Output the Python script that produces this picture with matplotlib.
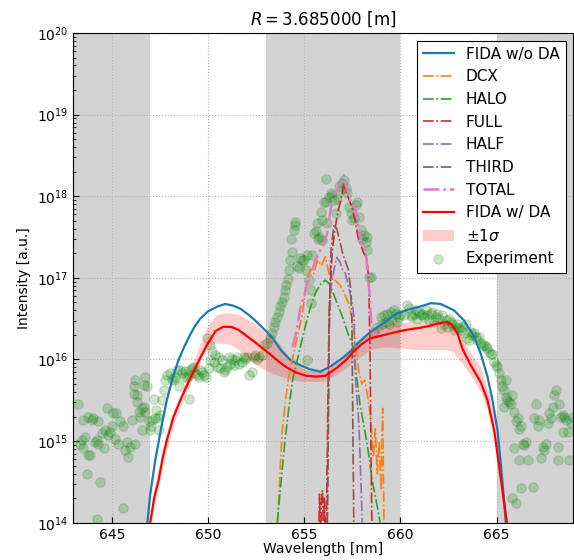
import numpy as np
import matplotlib
matplotlib.use("Agg")
from matplotlib import pyplot as plt

# wavelengths in nm, intensities stored as log10 values
fida_wl = [646.85, 647.0, 647.25, 647.55, 647.86, 648.2, 648.45, 648.7, 649.0, 649.3, 649.6, 650.0,
           650.5, 650.9, 651.3, 651.7, 652.1, 652.4, 652.7, 653.1, 653.4, 653.8, 654.3, 654.8, 655.3,
           655.85, 656.4, 657.0, 657.4, 657.8, 658.45, 659.1, 659.8, 660.4, 661.06, 661.58, 662.1,
           662.8, 663.3, 663.84, 664.18, 664.53, 664.79, 665.05, 665.22, 665.4, 665.5]
fida_log = [14.0, 14.35, 14.75, 15.14, 15.5, 15.8, 15.98, 16.12, 16.27, 16.4, 16.5, 16.59,
            16.65, 16.68, 16.66, 16.62, 16.55, 16.49, 16.42, 16.33, 16.25, 16.11, 15.99, 15.93, 15.88,
            15.85, 15.92, 16.02, 16.1, 16.2, 16.34, 16.44, 16.56, 16.61, 16.65, 16.69, 16.68,
            16.6, 16.48, 16.28, 16.07, 15.79, 15.5, 15.13, 14.73, 14.24, 13.95]

da_wl = [647.0, 647.2, 647.43, 647.65, 647.86, 648.21, 648.56, 649.08, 649.6, 650.0, 650.4, 650.8,
         651.2, 651.6, 652.0, 652.4, 652.73, 653.25, 653.7, 654.11, 654.6, 655.1, 655.6, 656.1,
         656.72, 657.2, 657.58, 658.0, 658.45, 659.0, 659.5, 660.02, 660.5, 661.06, 661.5, 661.93,
         662.45, 662.7, 662.97, 663.23, 663.66, 664.18, 664.53, 664.88, 665.14, 665.4, 665.55]
da_log = [14.0, 14.3, 14.52, 14.8, 15.01, 15.3, 15.5, 15.77, 16.02, 16.2, 16.35, 16.4,
          16.4, 16.36, 16.29, 16.22, 16.16, 16.06, 15.97, 15.9, 15.84, 15.8, 15.79, 15.8,
          15.9, 16.0, 16.1, 16.19, 16.26, 16.29, 16.32, 16.35, 16.37, 16.39, 16.41, 16.44,
          16.46, 16.42, 16.32, 16.13, 15.93, 15.72, 15.5, 15.13, 14.68, 14.24, 13.98]
da_lo = [13.95, 14.2, 14.42, 14.68, 14.9, 15.2, 15.42, 15.7, 15.98, 16.15, 16.2, 16.2,
         16.18, 16.12, 16.02, 15.95, 15.9, 15.84, 15.8, 15.77, 15.74, 15.73, 15.73, 15.74,
         15.82, 15.9, 15.98, 16.05, 16.12, 16.15, 16.15, 16.14, 16.13, 16.12, 16.12, 16.12,
         16.12, 16.1, 16.02, 15.95, 15.8, 15.6, 15.38, 15.02, 14.6, 14.18, 13.95]
da_hi = [14.02, 14.32, 14.55, 14.83, 15.05, 15.34, 15.56, 15.86, 16.2, 16.42, 16.54, 16.57,
         16.57, 16.55, 16.5, 16.44, 16.38, 16.28, 16.2, 16.06, 15.94, 15.87, 15.85, 15.86,
         15.97, 16.08, 16.18, 16.28, 16.36, 16.42, 16.44, 16.45, 16.46, 16.46, 16.47, 16.48,
         16.48, 16.44, 16.36, 16.26, 16.08, 15.9, 15.65, 15.3, 14.8, 14.3, 14.02]

dcx_wl = [653.62, 653.7, 653.85, 654.03, 654.2, 654.46, 654.72, 654.9, 655.1, 655.3, 655.5, 655.7,
          655.9, 656.1, 656.3, 656.5, 656.7, 656.9, 657.1, 657.3, 657.5, 657.7, 657.85, 658.0,
          658.15, 658.3, 658.45, 658.6, 658.7, 658.8, 658.9, 659.0, 659.08, 659.15]
dcx_log = [14.0, 14.4, 15.1, 15.5, 15.79, 16.08, 16.36, 16.55, 16.9, 17.1, 17.05, 17.22,
           17.15, 17.26, 17.05, 17.0, 16.95, 16.9, 16.8, 16.69, 16.5, 16.1, 15.85, 15.7,
           15.75, 15.55, 15.3, 14.8, 15.15, 14.6, 15.0, 14.4, 15.4, 14.0]

halo_wl = [653.6, 653.8, 654.0, 654.2, 654.4, 654.6, 654.8, 655.0, 655.3, 655.6, 655.9, 656.1,
           656.3, 656.5, 656.7, 656.9, 657.1, 657.3, 657.5, 657.7, 657.9, 658.1, 658.3, 658.55,
           658.8, 658.95]
halo_log = [14.0, 14.5, 15.0, 15.4, 15.75, 15.95, 16.15, 16.35, 16.62, 16.82, 16.94, 16.97,
            16.93, 16.82, 16.7, 16.58, 16.45, 16.3, 16.2, 15.85, 15.45, 15.2, 14.92, 14.5,
            14.2, 14.0]

full_wl = [655.75, 655.8, 655.85, 655.9, 655.95, 656.0, 656.05, 656.1, 656.15, 656.2, 656.25,
           656.3, 656.45, 656.6, 656.75, 656.9, 657.05, 657.2, 657.35, 657.5, 657.65, 657.8,
           657.95, 658.1, 658.25, 658.35, 658.42, 658.47, 658.52]
full_log = [13.8, 14.35, 13.8, 14.25, 14.4, 13.9, 14.3, 13.9, 14.0, 14.8, 15.8,
            16.6, 17.3, 17.6, 17.8, 17.95, 18.12, 18.05, 17.95, 17.85, 17.7, 17.5,
            17.4, 17.3, 17.25, 17.0, 16.2, 15.0, 14.0]

half_wl = [656.2, 656.25, 656.3, 656.4, 656.55, 656.7, 656.85, 657.0, 657.15, 657.3, 657.5,
           657.6, 657.66, 657.85, 657.95, 658.02]
half_log = [14.0, 15.0, 16.3, 16.9, 17.1, 17.25, 17.2, 17.1, 17.05, 16.9, 16.7,
            16.5, 15.8, 15.2, 14.5, 14.0]

third_wl = [656.2, 656.25, 656.3, 656.4, 656.55, 656.7, 656.85, 657.0, 657.15, 657.3, 657.4,
            657.48, 657.53, 657.58]
third_log = [14.0, 15.0, 16.5, 17.35, 17.65, 17.6, 17.45, 17.3, 17.2, 17.1, 16.9,
             16.5, 15.2, 14.0]

total_wl = [654.4, 654.6, 654.8, 655.0, 655.16, 655.4, 655.59, 655.8, 656.03, 656.2, 656.37,
            656.5, 656.63, 656.8, 656.95, 657.07, 657.2, 657.4, 657.55, 657.66, 657.8, 657.95,
            658.1, 658.2, 658.3, 658.4, 658.5, 658.6, 658.75]
total_log = [16.15, 16.35, 16.62, 16.78, 16.93, 17.08, 17.22, 17.32, 17.42, 17.55, 17.83,
             17.95, 18.04, 18.12, 18.18, 18.26, 18.12, 17.95, 17.9, 17.87, 17.65, 17.42,
             17.38, 17.34, 17.05, 16.81, 16.4, 16.3, 16.35]

exp_wl = [643.26, 643.35, 643.43, 643.52, 643.61, 643.69, 643.78, 643.87, 643.52, 643.78, 643.95,
          644.04, 644.13, 644.22, 644.30, 644.30, 644.39, 644.48, 644.60, 644.65, 644.74, 644.82,
          644.91, 645.00, 645.08, 645.17, 645.22, 645.34, 645.43, 645.57, 645.60, 645.69, 645.78,
          645.86, 645.95, 646.04, 646.13, 646.13, 646.21, 646.21, 646.30, 646.33, 646.39, 646.47,
          646.56, 646.56, 646.65, 646.68, 646.73, 646.73, 646.82, 646.91, 646.99, 647.03, 647.08,
          647.17, 647.25, 647.31, 647.38, 647.48, 647.51, 647.60, 647.69, 647.77, 647.86, 648.03,
          648.12, 648.21, 648.30, 648.38, 648.52, 648.56, 648.64, 648.73, 648.82, 648.90, 648.99,
          648.99, 649.08, 649.16, 649.28, 649.34, 649.42, 649.51, 649.60, 649.68, 649.81, 649.91,
          650.03, 644.22, 650.12, 650.29, 650.38, 650.47, 650.55, 650.64, 650.73, 650.81, 650.90,
          650.99, 651.07, 651.16, 651.25, 651.33, 651.42, 651.51, 651.59, 651.77, 651.85, 651.94,
          652.03, 652.11, 652.29, 652.38, 652.46, 652.55, 652.64, 652.81, 652.90, 653.07, 653.24,
          649.95, 650.10, 650.20,
          653.33, 653.42, 653.51, 653.59, 653.68, 653.77, 653.85, 653.94, 654.03, 654.08, 654.15,
          654.20, 654.29, 654.37, 654.32, 654.46, 654.50, 654.55, 654.63, 654.72, 654.81, 654.89,
          654.98, 655.07, 655.15, 655.24, 655.33, 655.36, 655.42, 655.50, 655.59, 655.68, 655.71,
          655.76, 655.85, 655.94, 655.94, 656.02, 656.11, 656.16, 656.20, 656.28, 656.37, 656.46,
          656.54, 656.63, 656.72, 656.80, 656.89, 656.98, 657.06, 657.15, 657.24, 657.33, 657.41,
          657.50, 657.59, 657.67, 657.76, 657.85, 657.93, 658.02, 658.11, 658.19, 658.28, 658.37,
          658.28, 655.15, 658.45, 658.63, 658.80,
          658.97, 659.15, 659.32, 659.49, 659.67, 659.76, 659.93, 660.02, 660.19, 660.36, 660.45,
          660.54, 660.62, 660.71, 660.80, 660.88, 660.97, 661.06, 661.14, 661.23, 661.32, 661.40,
          661.49, 661.58, 661.67, 661.75, 661.84, 661.93, 662.01, 662.10, 662.19, 662.27, 662.36,
          662.45, 662.53, 662.62, 662.71, 662.79, 662.88, 662.97, 663.05, 663.14, 663.23, 663.31,
          663.40, 663.49, 663.57, 663.66, 663.75, 663.84, 663.92, 664.01, 664.10, 664.18, 664.27,
          664.36, 664.44, 664.53, 664.62, 664.70, 664.79, 664.88, 664.96, 665.05, 665.14, 665.22,
          665.31, 665.40, 665.48, 665.48, 665.57, 665.66, 665.40, 665.74, 665.83, 665.92, 666.01,
          666.09, 666.18, 666.27, 665.92, 666.18, 666.35, 666.44, 666.61, 666.53, 666.87, 666.27,
          665.83, 666.01, 666.96, 667.05, 667.13, 667.22, 667.31, 667.39, 667.48, 667.57, 667.65,
          667.74, 667.83, 667.91, 668.00, 668.09, 668.18, 668.26, 668.35, 668.44, 668.52, 668.61,
          668.70, 668.44, 668.78, 668.87, 668.96, 668.18, 659.06, 659.23, 659.41, 659.58, 659.84]
exp_log = [15.46, 14.97, 15.01, 14.91, 15.05, 14.60, 14.83, 14.83, 15.26, 15.29, 15.26,
           15.28, 14.99, 15.01, 15.24, 14.97, 14.50, 15.10, 14.91, 15.14, 15.40, 15.07,
           15.11, 15.18, 15.34, 15.03, 15.34, 14.97, 15.24, 15.18, 14.18, 14.89, 14.99,
           14.81, 14.93, 15.26, 15.58, 15.67, 14.97, 15.75, 15.56, 15.48, 15.36, 15.29,
           15.14, 15.40, 15.42, 15.69, 15.78, 15.36, 15.67, 15.24, 15.14, 15.18, 15.26,
           15.52, 15.28, 15.38, 15.28, 15.14, 15.32, 15.50, 15.63, 15.75, 15.81, 15.83,
           15.76, 15.75, 15.79, 15.87, 15.67, 15.87, 15.83, 15.79, 15.86, 15.79, 15.52,
           15.81, 15.87, 15.89, 15.91, 15.83, 15.81, 15.79, 15.87, 15.85, 15.81, 15.79,
           15.89, 14.05, 15.99, 15.97, 16.05, 15.91, 16.03, 15.89, 15.99, 15.85, 15.87,
           15.91, 16.03, 15.95, 16.01, 15.93, 15.99, 16.03, 15.95, 15.97, 16.03, 16.00,
           16.03, 15.81, 15.85, 16.03, 16.05, 16.01, 16.03, 16.05, 16.18, 16.20, 16.26,
           16.26, 16.18, 16.10,
           16.32, 16.40, 16.46, 16.52, 16.58, 16.65, 16.71, 16.77, 16.85, 16.91, 16.99,
           17.10, 17.22, 17.32, 17.48, 17.59, 17.69, 17.65, 17.14, 17.12, 17.24, 17.22,
           17.22, 17.10, 17.28, 16.97, 16.85, 16.69, 17.28, 17.55, 17.57, 17.67, 17.48,
           17.50, 17.81, 17.71, 17.46, 17.93, 17.93, 18.21, 17.67, 17.99, 18.04, 18.02,
           17.95, 17.79, 17.97, 18.12, 18.08, 18.16, 18.20, 18.10, 18.04, 17.87, 17.79,
           17.71, 17.73, 17.89, 17.93, 17.75, 17.59, 17.48, 17.52, 17.44, 17.34, 17.01,
           17.50, 15.99, 17.01, 16.32, 16.40,
           16.52, 16.54, 16.56, 16.58, 16.60, 16.56, 16.52, 16.56, 16.54, 16.67, 16.63,
           16.54, 16.52, 16.56, 16.60, 16.50, 16.58, 16.54, 16.56, 16.52, 16.60, 16.54,
           16.48, 16.56, 16.58, 16.46, 16.52, 16.56, 16.50, 16.38, 16.54, 16.44, 16.48,
           16.40, 16.50, 16.46, 16.44, 16.36, 16.40, 16.44, 16.38, 16.36, 16.40, 16.32,
           16.44, 16.26, 16.24, 16.34, 16.30, 16.32, 16.28, 16.24, 16.28, 16.20, 16.16,
           16.18, 16.16, 16.14, 16.09, 16.07, 16.07, 15.97, 15.93, 15.91, 15.83, 15.75,
           15.67, 15.62, 15.75, 15.54, 15.50, 15.48, 15.42, 15.46, 15.56, 15.36, 15.24,
           15.28, 15.15, 15.18, 14.91, 14.77, 14.97, 14.95, 14.77, 14.99, 14.44, 14.43,
           14.30, 14.24, 15.28, 15.46, 15.18, 15.26, 14.79, 14.93, 14.89, 14.97, 15.22,
           15.34, 15.28, 15.42, 15.56, 15.62, 14.77, 15.46, 15.30, 15.32, 15.30, 15.26,
           15.11, 15.11, 14.77, 15.22, 15.30, 14.93, 16.44, 16.46, 16.44, 16.48, 16.46]

gray_bands = [(643, 647), (653, 660), (665, 669)]


def lin(values):
    return 10.0 ** np.array(values)


fig = plt.figure(figsize=(5.74, 5.6), dpi=100)
ax = fig.add_axes([0.1277, 0.0666, 0.8714, 0.8745])

for lo, hi in gray_bands:
    ax.axvspan(lo, hi, color="#d3d3d3", lw=0, zorder=0)

exp_h = ax.scatter(exp_wl, lin(exp_log), s=46, color="green", alpha=0.2, lw=0.8, zorder=1,
                   label="Experiment")
h_fida, = ax.plot(fida_wl, lin(fida_log), color="C0", lw=1.6, zorder=3, label="FIDA w/o DA")
h_dcx, = ax.plot(dcx_wl, lin(dcx_log), "-.", color="C1", lw=1.2, zorder=3, label="DCX")
h_halo, = ax.plot(halo_wl, lin(halo_log), "-.", color="C2", lw=1.2, zorder=3, label="HALO")
h_full, = ax.plot(full_wl, lin(full_log), "-.", color="C3", lw=1.2, zorder=3, label="FULL")
h_half, = ax.plot(half_wl, lin(half_log), "-.", color="C4", lw=1.2, zorder=3, label="HALF")
h_third, = ax.plot(third_wl, lin(third_log), "-.", color="C5", lw=1.2, zorder=3, label="THIRD")
h_total, = ax.plot(total_wl, lin(total_log), "-.", color="C6", lw=1.8, zorder=3, label="TOTAL")
h_da, = ax.plot(da_wl, lin(da_log), color="red", lw=1.6, zorder=4, label="FIDA w/ DA")
h_sig = ax.fill_between(da_wl, lin(da_lo), lin(da_hi), color="red", alpha=0.2, lw=0, zorder=2,
                        label=r"$\pm 1\sigma$")

ax.set_yscale("log")
ax.set_xlim(643, 669)
ax.set_ylim(1e14, 1e20)
ax.set_xticks([645, 650, 655, 660, 665])
ax.tick_params(which="both", direction="in", labelsize=10)
ax.tick_params(which="major", length=4)
ax.tick_params(which="minor", length=2)
ax.set_axisbelow(True)
ax.grid(True, which="major", ls=":", color="#b0b0b0", lw=0.8)

ax.set_xlabel("Wavelength [nm]", fontsize=10, labelpad=0)
ax.set_ylabel("Intensity [a.u.]", fontsize=10)
ax.set_title(r"$R = 3.685000$ [m]", fontsize=12)

handles = [h_fida, h_dcx, h_halo, h_full, h_half, h_third, h_total, h_da, h_sig, exp_h]
leg = ax.legend(handles=handles, loc="upper right", fontsize=11, fancybox=False,
                framealpha=1, edgecolor="black", scatterpoints=1)
leg.get_frame().set_linewidth(0.8)

fig.savefig("out.png", dpi=100)
